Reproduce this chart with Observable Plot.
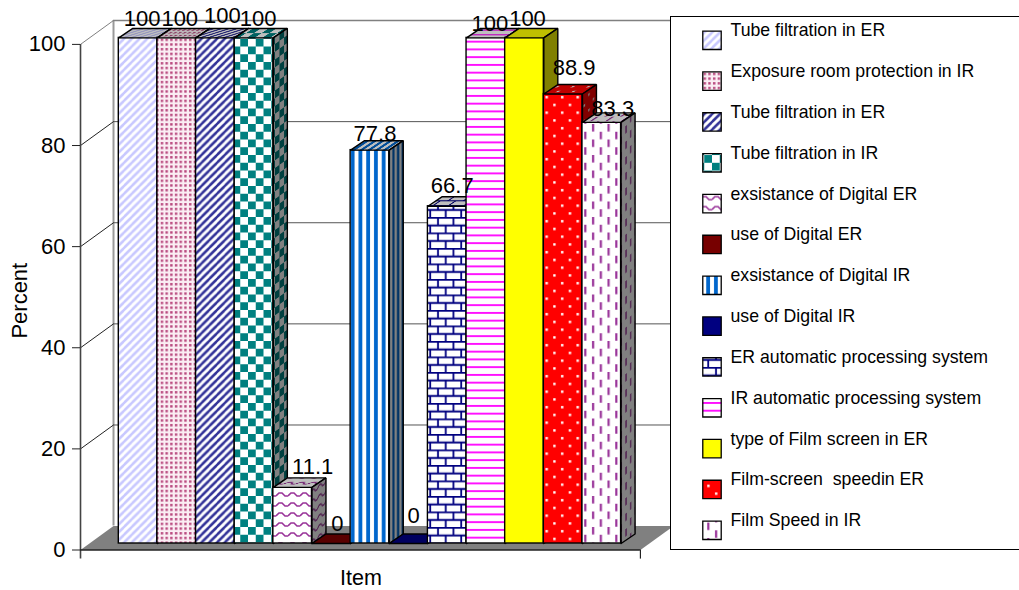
<!DOCTYPE html>
<html>
<head>
<meta charset="utf-8">
<script src="https://cdn.jsdelivr.net/npm/d3@7"></script>
<script src="https://cdn.jsdelivr.net/npm/@observablehq/plot@0.6"></script>
<style>
html,body{margin:0;padding:0;background:#fff;}
#chart{position:relative;width:1019px;height:590px;overflow:hidden;font-family:"Liberation Sans",Arial,sans-serif;}
#chart>svg{position:absolute;}
</style>
</head>
<body>
<div id="chart"></div>
<script>
// ---- data
const items = [
  "Tube filtration in ER","Exposure room protection in IR","Tube filtration in ER","Tube filtration in IR",
  "exsistance of Digital ER","use of Digital ER","exsistance of Digital IR","use of Digital IR",
  "ER automatic processing system","IR automatic processing system","type of Film screen in ER",
  "Film-screen  speedin ER","Film Speed in IR"
];
const values = [100,100,100,100,11.1,0,77.8,0,66.7,100,100,88.9,83.3];
const yTicks = [0,20,40,60,80,100];
const yTitle = "Percent";
const xTitle = "Item";

// ---- label nudges (pixels from the centre of each bar's top edge)
const labelDx = [4,3,7,4,20,6,5,5,5,4,3,11,11];
const labelDy = [-19,-19,-22,-19,-20,-20,-16,-28,-20,-14,-19,-26,-13];

// ---- hatch fills
function shade(hex,k){const c=d3.rgb(hex);return d3.rgb(c.r*k,c.g*k,c.b*k).formatHex();}
const diag = "M-2,9.75L9.75,-2M-2,1.9L1.9,-2M5.85,9.75L9.75,5.85";
const hatches = [
  {w:7.75,h:7.75,bg:"#ffffff",draw:f=>`<path d="${diag}" stroke="${f("#c8c8ff")}" stroke-width="2.6"/>`},
  {w:4.7,h:4.7,bg:"#fbeef4",draw:f=>`<rect x="1" y="1" width="2.4" height="2.4" fill="${f("#b8487e")}"/>`},
  {w:7.75,h:7.75,bg:"#ffffff",draw:f=>`<path d="${diag}" stroke="${f("#333399")}" stroke-width="2.6"/>`},
  {w:15.5,h:15.5,bg:"#ffffff",draw:f=>`<path d="M0,0h7.75v7.75h-7.75zM7.75,7.75h7.75v7.75h-7.75z" fill="${f("#008080")}"/>`},
  {w:12,h:10,bg:"#ffffff",draw:f=>`<path d="M0,6L3,3L6,3L9,6L12,6M-1,6L0,6" fill="none" stroke="${f("#993399")}" stroke-width="1.6"/>`},
  {w:8,h:8,bg:"#770000",draw:()=>""},
  {w:7.75,h:7.75,bg:"#ffffff",draw:f=>`<rect x="2" y="0" width="3.8" height="7.75" fill="${f("#0066cc")}"/>`},
  {w:8,h:8,bg:"#000080",draw:()=>""},
  {w:15.5,h:15.5,bg:"#ffffff",draw:f=>`<path d="M0,0.7H15.5M0,8.45H15.5M4,0.7V8.45M11.75,8.45V16.2" fill="none" stroke="${f("#000080")}" stroke-width="1.8"/>`},
  {w:7.75,h:7.75,bg:"#ffffff",draw:f=>`<rect x="0" y="2" width="7.75" height="1.8" fill="${f("#ff00ff")}"/>`},
  {w:8,h:8,bg:"#ffff00",draw:()=>""},
  {w:15.5,h:15.5,bg:"#ff0000",draw:f=>`<rect x="3" y="3" width="2.4" height="2.4" fill="${f("#ffffff")}"/><rect x="10.75" y="10.75" width="2.4" height="2.4" fill="${f("#ffffff")}"/>`},
  {w:15.5,h:15.5,bg:"#ffffff",draw:f=>`<rect x="3" y="0" width="2.2" height="7.5" fill="${f("#993399")}"/><rect x="10.75" y="7.75" width="2.2" height="7.5" fill="${f("#993399")}"/>`}
];
const faces = {front:{k:1,t:""},top:{k:.75,t:'patternTransform="matrix(1,0,-0.9,0.6,0,0)"'},side:{k:.5,t:'patternTransform="matrix(0.6,-0.43,0,1,0,0)"'}};
let defs = "";
hatches.forEach((p,i)=>{
  for (const [name,{k,t}] of Object.entries(faces)) {
    const f = c=>shade(c,k);
    defs += `<pattern id="h${i}-${name}" patternUnits="userSpaceOnUse" width="${p.w}" height="${p.h}" ${t}><rect width="${p.w}" height="${p.h}" fill="${f(p.bg)}"/>${p.draw(f)}</pattern>`;
  }
});
const host = document.getElementById("chart");
const defsSvg = document.createElementNS("http://www.w3.org/2000/svg","svg");
defsSvg.setAttribute("width",0);defsSvg.setAttribute("height",0);
defsSvg.innerHTML = `<defs>${defs}</defs>`;
host.appendChild(defsSvg);

// ---- pseudo-3D depth, in data units of the x (bar slots) and y (percent) scales
const barDx = 0.362, barDy = 1.87;        // depth of a bar
const axisX = -0.991, axisY = -1.285;     // front axis plane
const wallX = -0.137, wallY = 3.44;       // back wall plane
const endX = 13.5, endWallX = 14.36;      // right end of the floor

const poly = pts=>[...pts,pts[0]];
const face = (pts,fill)=>Plot.line(poly(pts),{x:d=>d[0],y:d=>d[1],fill,stroke:"#000",strokeWidth:1.4,strokeLinejoin:"miter"});

const barMarks = values.flatMap((v,i)=>[
  Plot.rect([v],{x1:()=>i,x2:()=>i+1,y1:()=>0,y2:d=>d,fill:`url(#h${i}-front)`,stroke:"#000",strokeWidth:1.4}),
  face([[i,v],[i+1,v],[i+1+barDx,v+barDy],[i+barDx,v+barDy]],`url(#h${i}-top)`),
  face([[i+1,0],[i+1,v],[i+1+barDx,v+barDy],[i+1+barDx,barDy]],`url(#h${i}-side)`)
]);
const labelMarks = values.map((v,i)=>Plot.text([v],{
  x:()=>i+.5,y:d=>d,text:d=>String(d),dx:labelDx[i],dy:labelDy[i],fontSize:22,fill:"#000"
}));

const chart = Plot.plot({
  width:1019,height:590,
  marginLeft:118.3,marginRight:398.4,marginTop:37.4,marginBottom:47,
  x:{type:"linear",domain:[0,13],axis:null},
  y:{type:"linear",domain:[0,100],axis:null},
  style:{background:"none",fontFamily:"Liberation Sans, Arial, sans-serif",overflow:"visible"},
  marks:[
    // floor
    Plot.line(poly([[axisX,axisY],[wallX,wallY],[endWallX,wallY],[endX,axisY]]),{x:d=>d[0],y:d=>d[1],fill:"#808080",stroke:"none"}),
    // back wall
    Plot.ruleX([wallX],{y1:wallY,y2:100+wallY,stroke:"#9a9a9a",strokeWidth:2}),
    Plot.ruleY(yTicks.filter(t=>t>0),{y:t=>t+wallY,x1:wallX,x2:endWallX,stroke:t=>t===100?"#808080":"#555",strokeWidth:t=>t===100?1.6:1}),
    Plot.link(yTicks.filter(t=>t>0),{x1:axisX,x2:wallX,y1:t=>t+axisY,y2:t=>t+wallY,stroke:t=>t===100?"#808080":"#222",strokeWidth:1}),
    // front axes
    Plot.ruleX([axisX],{y1:axisY-1.8,y2:100+axisY,stroke:"#444",strokeWidth:1.6}),
    Plot.ruleY([axisY],{x1:axisX,x2:endX,stroke:"#222",strokeWidth:1.6}),
    Plot.ruleX([endX],{y1:axisY-1.8,y2:axisY,stroke:"#222",strokeWidth:1.2}),
    Plot.axisY({ticks:yTicks,dx:-38.3,dy:6.5,tickSize:8,tickPadding:7,fontSize:22,label:null,stroke:"#222"}),
    ...barMarks,
    ...labelMarks,
    Plot.text([yTitle],{frameAnchor:"left",textAnchor:"middle",lineAnchor:"middle",dx:-98.5,dy:10,rotate:-90,fontSize:22,fill:"#000"}),
    Plot.text([xTitle],{frameAnchor:"bottom",textAnchor:"middle",lineAnchor:"middle",dx:-9,dy:35,fontSize:21.5,fill:"#000"})
  ]
});
chart.style.left="0px";chart.style.top="0px";
host.appendChild(chart);

// ---- legend
const legendRows = items.map((name,i)=>({name,i}));
const legend = Plot.plot({
  width:360,height:532,
  marginLeft:40.5,marginRight:301,marginTop:13,marginBottom:29,
  x:{type:"linear",domain:[0,1],axis:null},
  y:{type:"linear",domain:[0,12],reverse:true,axis:null},
  style:{background:"#fff",fontFamily:"Liberation Sans, Arial, sans-serif",overflow:"hidden"},
  marks:[
    ...legendRows.map(r=>Plot.dot([r],{x:()=>0,y:"i",dy:9.8,symbol:"square",r:10.4,fill:`url(#h${r.i}-front)`,stroke:"#000",strokeWidth:1.3})),
    Plot.text(legendRows,{x:()=>1,y:"i",text:"name",textAnchor:"start",fontSize:17.7,fill:"#000"})
  ]
});
legend.style.cssText += ";left:670px;top:16px;border:1px solid #000;box-sizing:content-box;";
host.appendChild(legend);
</script>
</body>
</html>
